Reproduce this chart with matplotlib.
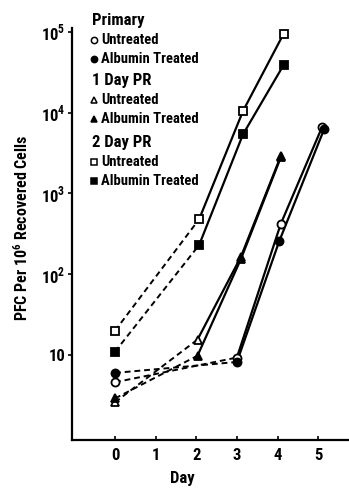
import matplotlib
matplotlib.use("Agg")
import matplotlib.pyplot as plt
from matplotlib import font_manager as fm
from matplotlib.ticker import FixedLocator, NullLocator


def _w(v):
    try:
        return int(v)
    except (TypeError, ValueError):
        return 700 if 'bold' in str(v) else 400


def has_bold(name):
    return any(f.name == name and _w(f.weight) >= 600 for f in fm.fontManager.ttflist)


CANDIDATES = ['Roboto Condensed', 'PT Sans Narrow', 'Archivo Narrow', 'Fjalla One',
              'Francois One', 'Oswald', 'DejaVu Sans']
FONT = next((c for c in CANDIDATES if has_bold(c)), 'DejaVu Sans')
plt.rcParams['font.family'] = [FONT, 'DejaVu Sans']
plt.rcParams['font.weight'] = 'bold'
plt.rcParams['mathtext.fontset'] = 'custom'
plt.rcParams['mathtext.rm'] = FONT + ':bold'
plt.rcParams['mathtext.bf'] = FONT + ':bold'

# ---- data ----
days_ticks = [0, 1, 2, 3, 4, 5]

prim_x = [0, 3.0, 4.08, 5.1]
prim_untreated = [4.6, 9.3, 420, 6700]
prim_fill_x = [0, 3.0, 4.04, 5.15]
prim_albumin = [6.0, 8.2, 255, 6300]

pr1_x = [0, 2.03, 3.1, 4.08]
pr1_untreated = [2.6, 15.5, 165, 2900]
pr1_albumin = [2.9, 9.8, 155, 2800]

pr2_x = [0, 2.07, 3.15, 4.15]
pr2_untreated = [20, 480, 10500, 95000]
pr2_albumin = [11, 230, 5400, 39000]

W, H = 349, 490
fig = plt.figure(figsize=(W / 100, H / 100), dpi=100)
ax = fig.add_axes([72 / W, 1 - 440 / H, (W - 72) / W, (440 - 28) / H])

ax.set_yscale('log')
ax.set_ylim(0.886, 1.12e5)
ax.set_xlim(-1.06, 5.76)

def series(x, y, marker, filled, brk):
    fc = 'black' if filled else 'white'
    ax.plot(x[:brk + 1], y[:brk + 1], color='black', lw=1.4, ls=(0, (3, 2)))
    ax.plot(x[brk:], y[brk:], color='black', lw=1.6, ls='-')
    ax.plot(x, y, ls='none', marker=marker, ms=5.8, mfc=fc, mec='black', mew=1.3, zorder=5)

series(pr2_x, pr2_untreated, 's', False, 1)
series(pr2_x, pr2_albumin, 's', True, 1)
series(pr1_x, pr1_untreated, '^', False, 1)
series(pr1_x, pr1_albumin, '^', True, 1)
series(prim_x, prim_untreated, 'o', False, 1)
series(prim_fill_x, prim_albumin, 'o', True, 1)

for s in ['top', 'right']:
    ax.spines[s].set_visible(False)
for s in ['left', 'bottom']:
    ax.spines[s].set_linewidth(1.6)

ax.yaxis.set_major_locator(FixedLocator([10, 100, 1000, 1e4, 1e5]))
ax.yaxis.set_minor_locator(NullLocator())
ax.set_yticklabels(['10', r'$10^2$', r'$10^3$', r'$10^4$', r'$10^5$'], fontsize=12, fontweight='bold')
ax.set_xticks(days_ticks)
ax.set_xticklabels([str(d) for d in days_ticks], fontsize=12, fontweight='bold')
ax.tick_params(axis='y', direction='out', length=3, width=1.2, pad=2)
ax.tick_params(axis='x', direction='in', length=3, width=1.2, pad=6)

fig.text(182 / W, 1 - 478 / H, 'Day', ha='center', va='center', fontsize=12, fontweight='bold')
fig.text(22 / W, 1 - 228 / H, r'PFC Per 10$^6$ Recovered Cells', rotation=90,
         ha='center', va='center', fontsize=11.5, fontweight='bold')

# ---- legend drawn as text ----
def fx(px):
    return px / W

def fy(py):
    return 1 - py / H

headers = [('Primary', 20), ('1 Day PR', 80), ('2 Day PR', 142)]
for txt, yy in headers:
    fig.text(fx(92), fy(yy), txt, ha='left', va='center', fontsize=12, fontweight='bold')

items = [('o', False, 40), ('o', True, 59), ('^', False, 100), ('^', True, 119),
         ('s', False, 162), ('s', True, 181)]
labels = ['Untreated', 'Albumin Treated'] * 3
for (m, filled, yy), lab in zip(items, labels):
    fig.lines.append(plt.Line2D([fx(93.5)], [fy(yy)], transform=fig.transFigure, marker=m,
                                ms=4.5, mfc='black' if filled else 'white', mec='black',
                                mew=1.1, ls='none'))
    fig.text(fx(101.5), fy(yy), lab, ha='left', va='center', fontsize=10.5, fontweight='bold')

fig.savefig('out.png', dpi=100)
